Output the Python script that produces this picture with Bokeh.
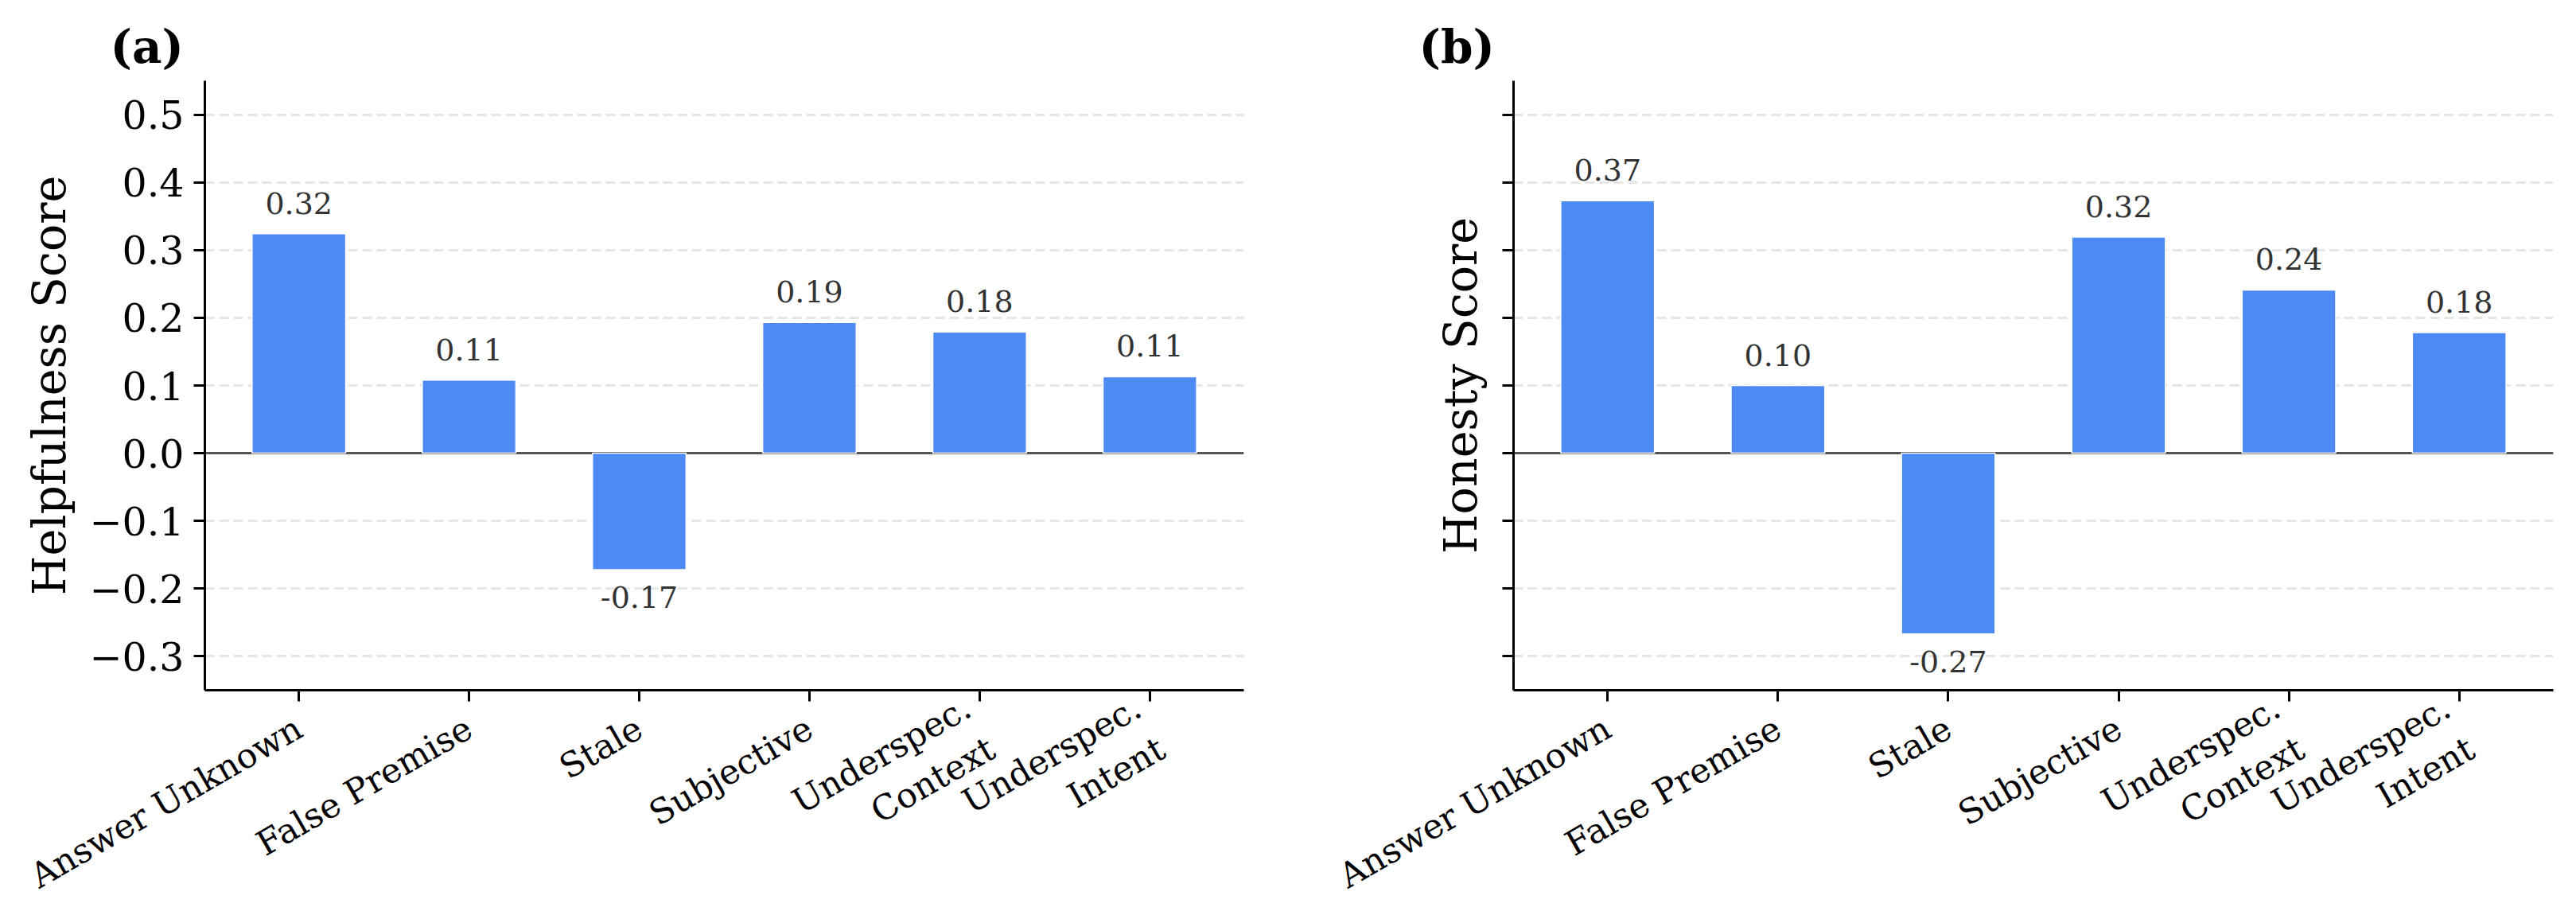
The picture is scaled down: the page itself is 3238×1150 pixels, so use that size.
import math

from bokeh.core.properties import value
from bokeh.embed import file_html
from bokeh.layouts import row
from bokeh.models import ColumnDataSource, CustomJSTickFormatter, FactorRange, FixedTicker, Range1d
from bokeh.plotting import figure
from bokeh.resources import INLINE

# Per-category scores for the two panels
categories = ["Answer Unknown", "False Premise", "Stale", "Subjective",
              "Underspec.\nContext", "Underspec.\nIntent"]
helpfulness = [0.324, 0.108, -0.172, 0.193, 0.179, 0.113]
honesty = [0.373, 0.100, -0.267, 0.319, 0.241, 0.178]
y_ticks = [-0.3, -0.2, -0.1, 0.0, 0.1, 0.2, 0.3, 0.4, 0.5]

FONT = "DejaVu Serif"
BAR_COLOR = "#4e8af4"
TEXT_COLOR = "#333333"


def make_panel(tag, ylabel, scores, width, border_left, border_right, show_ticklabels):
    p = figure(
        x_range=FactorRange(factors=categories, range_padding=0.105 / 6),
        y_range=Range1d(-0.35, 0.55),
        width=width, height=1150,
        min_border_left=border_left, min_border_right=border_right,
        min_border_top=101, min_border_bottom=282,
        output_backend="svg", toolbar_location=None,
    )
    p.outline_line_color = None
    p.background_fill_color = "white"
    p.border_fill_color = "white"

    # panel tag
    p.title.text = tag
    p.title.align = "left"
    p.title.offset = -119
    p.title.standoff = 18
    p.title.text_font = FONT
    p.title.text_font_size = "58px"
    p.title.text_font_style = "bold"
    p.title.text_color = "black"

    # grid
    p.xgrid.grid_line_color = None
    p.ygrid.ticker = FixedTicker(ticks=y_ticks)
    p.ygrid.grid_line_color = "#e6e6e6"
    p.ygrid.grid_line_width = 3
    p.ygrid.grid_line_dash = "12 6"

    # zero reference line, kept under the bars
    p.hspan(y=[0.0], line_color="#555555", line_width=3)

    src = ColumnDataSource(dict(
        x=categories,
        y=scores,
        label=[f"{v:.2f}" for v in scores],
    ))
    p.vbar(x="x", top="y", bottom=0, width=0.55, source=src,
           fill_color=BAR_COLOR, line_color="white", line_width=1.5)

    pos = ColumnDataSource(dict(
        x=[c for c, v in zip(categories, scores) if v >= 0],
        y=[v for v in scores if v >= 0],
        label=[f"{v:.2f}" for v in scores if v >= 0],
    ))
    neg = ColumnDataSource(dict(
        x=[c for c, v in zip(categories, scores) if v < 0],
        y=[v for v in scores if v < 0],
        label=[f"{v:.2f}" for v in scores if v < 0],
    ))
    common = dict(text="label", text_align="center", text_font=value(FONT),
                  text_font_size="38px", text_color=TEXT_COLOR)
    p.text(x="x", y="y", source=pos, text_baseline="bottom", y_offset=-25, **common)
    p.text(x="x", y="y", source=neg, text_baseline="top", y_offset=21, **common)

    # axes
    for ax in (p.xaxis[0], p.yaxis[0]):
        ax.axis_line_color = "black"
        ax.axis_line_width = 3
        ax.major_tick_line_color = "black"
        ax.major_tick_line_width = 3
        ax.major_tick_out = 14
        ax.major_tick_in = 0
        ax.minor_tick_line_color = None
        ax.major_label_text_font = FONT
        ax.major_label_text_color = "black"

    p.yaxis.ticker = FixedTicker(ticks=y_ticks)
    if show_ticklabels:
        p.yaxis.formatter = CustomJSTickFormatter(
            code="return (tick < -1e-9 ? '\u2212' : '') + Math.abs(tick).toFixed(1);")
    else:
        p.yaxis.formatter = CustomJSTickFormatter(code="return '';")
    p.yaxis.major_label_text_font_size = "49px"
    p.yaxis.major_label_standoff = 12
    p.yaxis.axis_label = ylabel
    p.yaxis.axis_label_text_font = FONT
    p.yaxis.axis_label_text_font_size = "57px"
    p.yaxis.axis_label_text_font_style = "normal"
    p.yaxis.axis_label_text_color = "black"
    p.yaxis.axis_label_standoff = 15 if show_ticklabels else 20

    p.xaxis.major_label_orientation = math.pi / 6
    p.xaxis.major_label_text_font_size = "43px"
    p.xaxis.major_label_standoff = 30
    p.xaxis.group_text_font_size = "0px"
    return p


p1 = make_panel("(a)", "Helpfulness Score", helpfulness, 1619, 257, 56, True)
p2 = make_panel("(b)", "Honesty Score", honesty, 1619, 283, 29, False)

layout = row(p1, p2)
open("out.html", "w").write(file_html(layout, INLINE))
